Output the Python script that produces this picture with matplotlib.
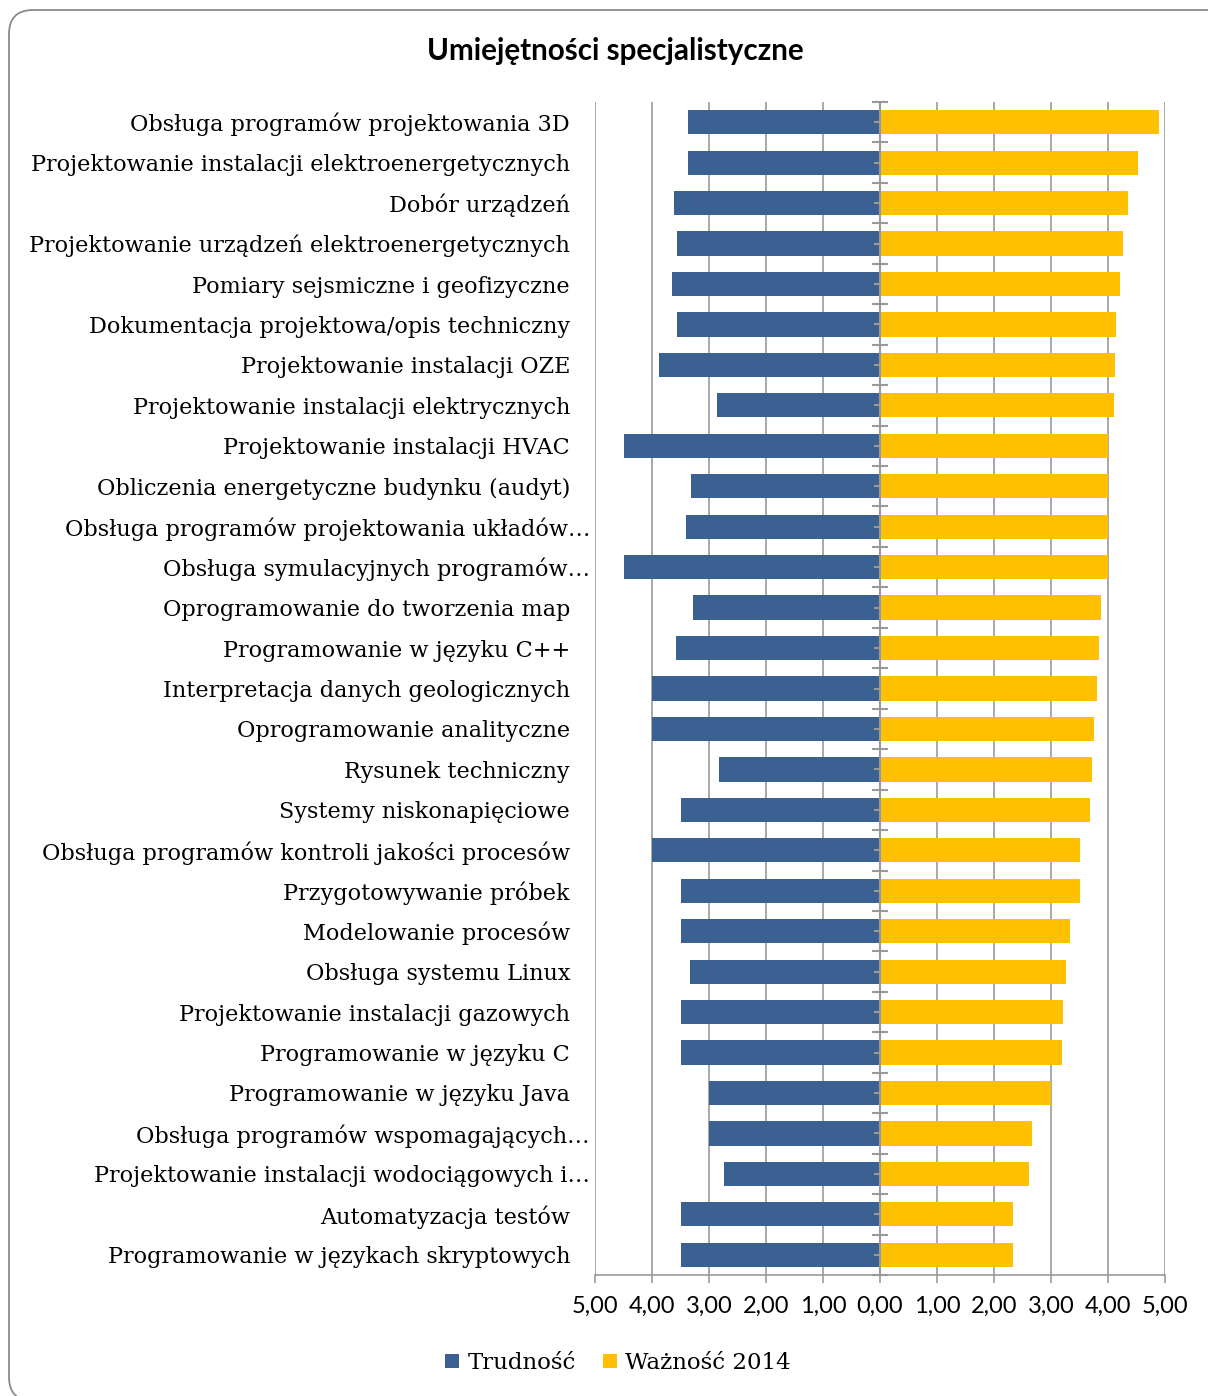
import matplotlib
matplotlib.use("Agg")
import matplotlib.pyplot as plt
from matplotlib.patches import FancyBboxPatch
from matplotlib.ticker import FixedLocator, FuncFormatter
from matplotlib.transforms import ScaledTranslation

labels = [
    "Obsługa programów projektowania 3D",
    "Projektowanie instalacji elektroenergetycznych",
    "Dobór urządzeń",
    "Projektowanie urządzeń elektroenergetycznych",
    "Pomiary sejsmiczne i geofizyczne",
    "Dokumentacja projektowa/opis techniczny",
    "Projektowanie instalacji OZE",
    "Projektowanie instalacji elektrycznych",
    "Projektowanie instalacji HVAC",
    "Obliczenia energetyczne budynku (audyt)",
    "Obsługa programów projektowania układów…",
    "Obsługa symulacyjnych programów…",
    "Oprogramowanie do tworzenia map",
    "Programowanie w języku C++",
    "Interpretacja danych geologicznych",
    "Oprogramowanie analityczne",
    "Rysunek techniczny",
    "Systemy niskonapięciowe",
    "Obsługa programów kontroli jakości procesów",
    "Przygotowywanie próbek",
    "Modelowanie procesów",
    "Obsługa systemu Linux",
    "Projektowanie instalacji gazowych",
    "Programowanie w języku C",
    "Programowanie w języku Java",
    "Obsługa programów wspomagających…",
    "Projektowanie instalacji wodociągowych i…",
    "Automatyzacja testów",
    "Programowanie w językach skryptowych",
]

trudnosc = [3.37, 3.37, 3.61, 3.56, 3.65, 3.56, 3.88, 2.86, 4.50, 3.32,
            3.40, 4.50, 3.28, 3.58, 4.00, 4.00, 2.82, 3.50, 4.00, 3.50,
            3.50, 3.33, 3.50, 3.50, 3.00, 3.00, 2.74, 3.50, 3.50]

waznosc = [4.89, 4.53, 4.35, 4.26, 4.21, 4.14, 4.12, 4.11, 4.00, 4.00,
           4.00, 4.00, 3.88, 3.84, 3.81, 3.75, 3.72, 3.68, 3.50, 3.50,
           3.33, 3.26, 3.21, 3.20, 3.00, 2.67, 2.61, 2.33, 2.33]

blue = "#3A6192"
yellow = "#FFC000"
gray = "#999999"

fig = plt.figure(figsize=(12.08, 13.96), dpi=100)

# rounded frame around the chart (partly cut by the image edge)
frame = FancyBboxPatch((9, -5), 1224, 1391, boxstyle="round,pad=0,rounding_size=24",
                       transform=None, facecolor="none", edgecolor="#8a8a8a",
                       linewidth=1.3, zorder=-1)
fig.patches.append(frame)

ax = fig.add_axes([595 / 1208, 121 / 1396, 570 / 1208, 1173 / 1396])
ax.set_facecolor("none")

y = list(range(len(labels)))
ax.barh(y, [-v for v in trudnosc], height=0.6, color=blue, label="Trudność", zorder=3)
ax.barh(y, waznosc, height=0.6, color=yellow, label="Ważność 2014", zorder=3)

ax.set_xlim(-5, 5)
ax.set_ylim(len(labels) - 0.5, -0.5)

ax.xaxis.set_major_locator(FixedLocator(range(-5, 6)))
ax.xaxis.set_major_formatter(FuncFormatter(lambda v, p: f"{abs(v):.2f}".replace(".", ",")))
ax.grid(axis="x", color=gray, linewidth=1.2, zorder=1)
ax.set_axisbelow(True)

for s in ["top", "left", "right"]:
    ax.spines[s].set_visible(False)
ax.spines["bottom"].set_color(gray)
ax.spines["bottom"].set_linewidth(1.2)

ax.tick_params(axis="x", direction="out", length=6, width=1.2, color=gray, pad=9,
               labelsize=17)
for t in ax.get_xticklabels():
    t.set_fontfamily("Lato")

ax.set_yticks(y)
ax.set_yticklabels(labels, fontfamily="DejaVu Serif", fontsize=16.1)
ax.tick_params(axis="y", length=0, pad=18)

# truncated labels run a bit further right (ellipsis past the usual edge)
shift = ScaledTranslation(20 / 100, 0, fig.dpi_scale_trans)
for tick, lab in zip(ax.yaxis.get_major_ticks(), labels):
    if lab.endswith("…"):
        tick.label1.set_transform(tick.label1.get_transform() + shift)

# zero axis with category tick marks
ax.axvline(0, color=gray, linewidth=1.5, zorder=4)
bounds = [i - 0.5 for i in range(len(labels) + 1)]
ax.plot([0] * len(bounds), bounds, linestyle="none", marker="_", markersize=11,
        markeredgewidth=1.5, color=gray, zorder=4, clip_on=False)
ax.plot([0] * len(y), y, linestyle="none", marker=0, markersize=4.5,
        markeredgewidth=1.5, color=gray, zorder=4)

fig.text(615 / 1208, 1 - 51 / 1396, "Umiejętności specjalistyczne", ha="center", va="center",
         fontfamily="Lato", fontweight="bold", fontsize=21.3)

leg = fig.legend(loc="center", bbox_to_anchor=(618 / 1208, 1 - 1363 / 1396), ncol=2,
                 frameon=False, prop={"family": "DejaVu Serif", "size": 16.5},
                 handlelength=0.6, handleheight=0.6, handletextpad=0.35, columnspacing=1.2)

fig.savefig("out.png", dpi=100)
